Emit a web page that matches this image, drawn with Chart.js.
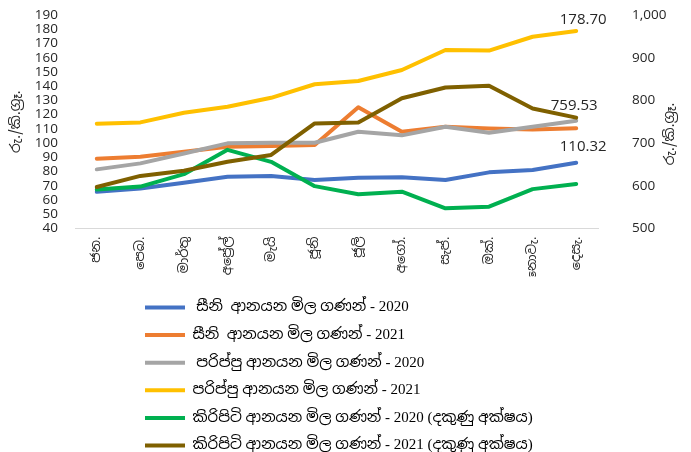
<!DOCTYPE html>
<html><head><meta charset="utf-8">
<script src="https://cdn.jsdelivr.net/npm/chart.js@4/dist/chart.umd.min.js"></script>
<style>html,body{margin:0;padding:0;background:#fff}#wrap{width:691px;height:452px;position:relative}</style>
</head><body><div id="wrap"><canvas id="c"></canvas></div>
<script>
const months = ['ජන.','පෙබ.','මාර්තු','අප්‍රේල්','මැයි','ජූනි','ජූලි','අගෝ.','සැප්.','ඔක්.','නොවැ.','දෙසැ.'];
const seriesNames = [
  ' සීනි  ආනයන මිල ගණන් - 2020',
  'සීනි  ආනයන මිල ගණන් - 2021',
  ' පරිප්පු ආනයන මිල ගණන් - 2020',
  'පරිප්පු ආනයන මිල ගණන් - 2021',
  'කිරිපිටි ආනයන මිල ගණන් - 2020 (දකුණු අක්ෂය)',
  'කිරිපිටි ආනයන මිල ගණන් - 2021 (දකුණු අක්ෂය)'
];
const sugar2020 = [65.7, 68.1, 72.1, 76.3, 76.8, 74.0, 75.6, 75.9, 74.0, 79.4, 81.0, 86.1];
const sugar2021 = [89.0, 90.4, 93.9, 97.4, 97.9, 98.6, 125.1, 107.9, 111.4, 110.3, 109.6, 110.32];
const dhal2020 = [81.5, 85.7, 92.7, 99.8, 100.2, 100.2, 107.9, 105.4, 111.4, 107.2, 111.4, 115.7];
const dhal2021 = [113.6, 114.5, 121.3, 125.5, 131.8, 141.3, 143.6, 151.3, 165.4, 165.0, 174.7, 178.70];
const milk2020 = [591, 598, 627, 684, 656, 599, 580, 586, 547, 551, 592, 604];
const milk2021 = [597, 623, 635, 656, 672, 746, 748, 805, 830, 834, 781, 759.53];
const axisTitle = 'රු./කි.ග්‍රෑ.';
const leftTicks = {min: 40, max: 190, step: 10};
const rightTicks = {min: 500, max: 1000, step: 100};

const colors = ['#4472C4', '#ED7D31', '#A5A5A5', '#FFC000', '#00B050', '#7F6000'];
const allData = [sugar2020, sugar2021, dhal2020, dhal2021, milk2020, milk2021];
const axisOf = ['y', 'y', 'y', 'y', 'y1', 'y1'];

const SIN = "'Noto Sans Sinhala','Iskoola Pota','Noto Sans',sans-serif";
const LEG = "'Liberation Serif','Noto Sans Sinhala',serif";
const NUM = "'Open Sans','Noto Sans',sans-serif";

const datasets = allData.map((d, i) => ({
  label: seriesNames[i],
  data: d,
  yAxisID: axisOf[i],
  borderColor: colors[i],
  backgroundColor: colors[i],
  borderWidth: 4,
  pointRadius: 0,
  pointHoverRadius: 0,
  tension: 0,
  borderCapStyle: 'round',
  borderJoinStyle: 'round',
  order: 5 - i
}));

const endLabels = [
  {ds: 3, dx: 7, dy: -11},
  {ds: 5, dx: -2, dy: -12},
  {ds: 1, dx: 7, dy: 18}
];

const LEG_SIZE = 15;
const LEG_PAD = 27.6 - LEG_SIZE;
const extras = {
  id: 'extras',
  afterInit(chart) {
    const lg = chart.legend;
    const orig = lg.update;
    lg.update = function (mw, mh, m) { return orig.call(this, 300, mh, m); };
    lg.draw = function () { if (this.options.display) this._draw(); };
  },
  afterUpdate(chart) {
    const lg = chart.legend;
    lg.left = 145 - LEG_PAD; lg.right = lg.left + 300;
    lg.top = 307.5 - LEG_PAD - LEG_SIZE / 2; lg.bottom = lg.top + lg.height;
  },
  afterDraw(chart) {
    const ctx = chart.ctx;
    ctx.save();
    ctx.fillStyle = '#262626';
    ctx.font = '15px ' + NUM;
    ctx.textAlign = 'center';
    ctx.textBaseline = 'middle';
    endLabels.forEach(l => {
      const meta = chart.getDatasetMeta(l.ds);
      const n = allData[l.ds].length - 1;
      const pt = meta.data[n];
      ctx.fillText(allData[l.ds][n].toFixed(2), pt.x + l.dx, pt.y + l.dy);
    });
    // right axis title (reads bottom to top like the reference)
    ctx.font = '14px ' + SIN;
    ctx.translate(670, 134);
    ctx.rotate(-Math.PI / 2);
    ctx.fillText(axisTitle, 0, 0);
    ctx.restore();
  }
};

new Chart(document.getElementById('c'), {
  type: 'line',
  data: {labels: months, datasets},
  plugins: [extras],
  options: {
    responsive: true,
    maintainAspectRatio: false,
    animation: false,
    layout: {padding: {top: 15, right: 0, left: 0, bottom: 0}},
    plugins: {
      tooltip: {enabled: false},
      legend: {
        position: 'bottom',
        align: 'start',
        labels: {
          usePointStyle: true,
          pointStyle: 'line',
          pointStyleWidth: 40,
          padding: LEG_PAD,
          color: '#000',
          font: {family: LEG, size: LEG_SIZE},
          sort: (a, b) => a.datasetIndex - b.datasetIndex
        }
      }
    },
    scales: {
      x: {
        offset: true,
        grid: {display: false, drawTicks: true, tickLength: 8},
        border: {display: true, color: '#D9D9D9', width: 1},
        ticks: {
          autoSkip: false, minRotation: 90, maxRotation: 90, padding: 0,
          color: '#262626', font: {family: SIN, size: 13}
        },
        afterFit(s) { s.height = 48; }
      },
      y: {
        position: 'left',
        min: leftTicks.min, max: leftTicks.max,
        grid: {display: false, drawTicks: true, tickLength: 17},
        border: {display: false},
        ticks: {stepSize: leftTicks.step, autoSkip: false, padding: 0, color: '#262626', font: {family: NUM, size: 13.5}},
        title: {display: true, text: axisTitle, color: '#262626', font: {family: SIN, size: 14}, padding: {top: 8, bottom: 0}},
        afterFit(s) { s.width = 75; }
      },
      y1: {
        position: 'right',
        min: rightTicks.min, max: rightTicks.max,
        grid: {display: false, drawTicks: true, tickLength: 34},
        border: {display: false},
        ticks: {stepSize: rightTicks.step, autoSkip: false, padding: 0, color: '#262626', font: {family: NUM, size: 13.5}},
        afterFit(s) { s.width = 93; }
      }
    }
  }
});
</script>
</body></html>
